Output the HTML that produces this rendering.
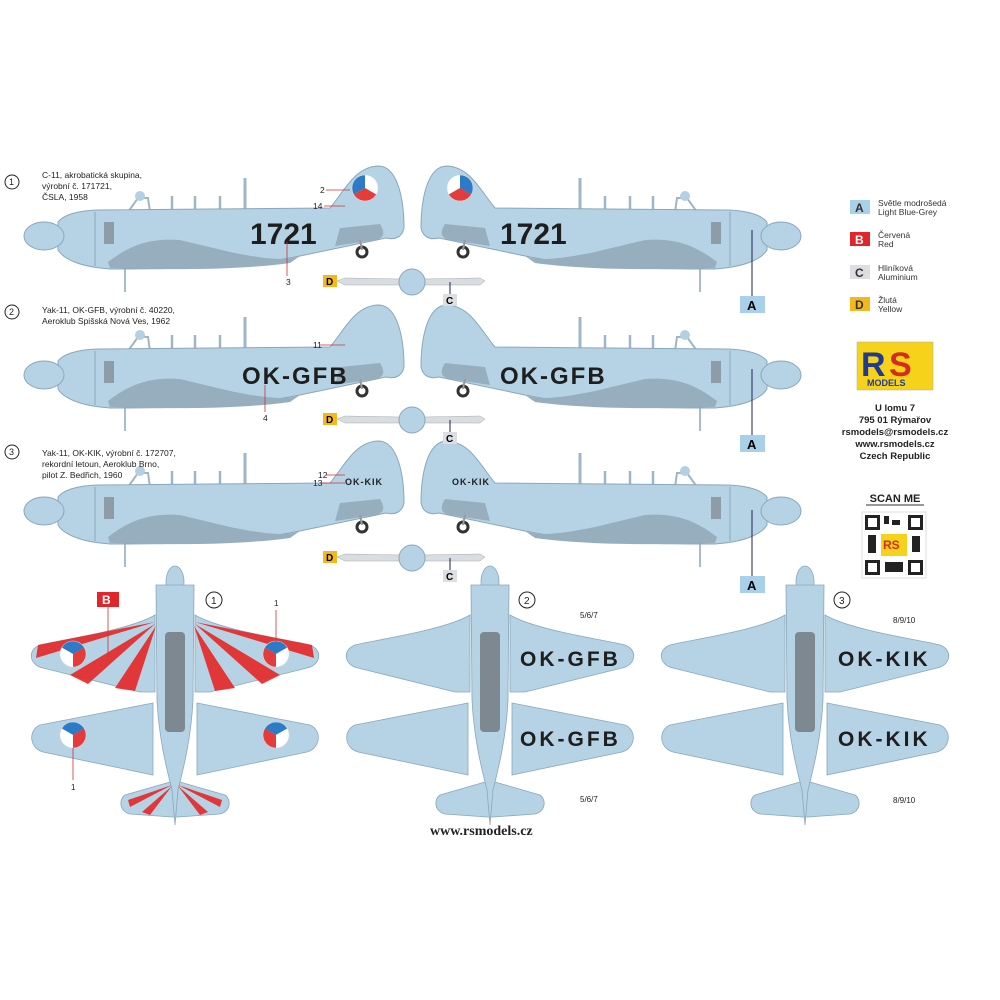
<!DOCTYPE html>
<html><head><meta charset="utf-8"><style>
html,body{margin:0;padding:0;background:#fff;}
svg{display:block;font-family:"Liberation Sans",sans-serif;}
</style></head><body>
<svg width="1000" height="1000" viewBox="0 0 1000 1000" xmlns="http://www.w3.org/2000/svg">
<defs>
<g id="rnd">
  <path d="M0 0 L-11.26 6.5 A13 13 0 0 1 0 -13 Z" fill="#2c7bc8"/>
  <path d="M0 0 L0 -13 A13 13 0 0 1 11.26 6.5 Z" fill="#fff"/>
  <path d="M0 0 L11.26 6.5 A13 13 0 0 1 -11.26 6.5 Z" fill="#e43b3b"/>
  <circle r="13" fill="none" stroke="#ddd" stroke-width="0.5"/>
</g>
<g id="side">
  <line x1="245" y1="178" x2="245" y2="212" stroke="#9fb6c6" stroke-width="3"/>
  <line x1="172" y1="196" x2="172" y2="212" stroke="#9fb6c6" stroke-width="2.5"/>
  <line x1="195" y1="196" x2="195" y2="212" stroke="#9fb6c6" stroke-width="2.5"/>
  <line x1="220" y1="196" x2="220" y2="212" stroke="#9fb6c6" stroke-width="2.5"/>
  <path d="M128 212 L138 198 L148 198 L150 212 Z" fill="none" stroke="#9fb6c6" stroke-width="2"/>
  <circle cx="140" cy="196" r="5" fill="#b4d0e3"/>
  <path d="M58 222 C66 212,88 210,100 210 L330 208 C345 190,355 167,378 166 C398 166,404 200,404 228 C402 238,394 240,386 238 L300 256 C240 268,180 269,110 269 L100 268 C82 266,64 260,58 250 Z" fill="#b6d3e5" stroke="#8aa7bb" stroke-width="1"/>
  <ellipse cx="44" cy="236" rx="20" ry="14" fill="#b6d3e5" stroke="#8aa7bb" stroke-width="1"/>
  <line x1="95" y1="212" x2="95" y2="266" stroke="#8aa7bb" stroke-width="1"/>
  <rect x="104" y="222" width="10" height="22" fill="#8d9ca7"/>
  <path d="M108 262 C130 245,150 238,180 240 L230 252 C260 258,285 262,300 256 L290 263 C240 270,170 270,110 268 Z" fill="#97aebe"/>
  <path d="M340 228 L380 224 C385 232,385 238,375 240 L335 246 Z" fill="#97aebe"/>
  <line x1="125" y1="268" x2="125" y2="292" stroke="#8aa7bb" stroke-width="1.5"/>
  <circle cx="362" cy="252" r="5" fill="none" stroke="#333" stroke-width="3"/>
  <line x1="360" y1="240" x2="362" y2="250" stroke="#999" stroke-width="2"/>
</g>
<g id="top">
  <path d="M-20 615 C-45 630,-115 640,-135 645 C-148 650,-146 665,-132 668 L-35 692 L-20 692 Z" fill="#b6d3e5" stroke="#8aa7bb" stroke-width="0.8"/>
  <path d="M20 615 C45 630,115 640,135 645 C148 650,146 665,132 668 L35 692 L20 692 Z" fill="#b6d3e5" stroke="#8aa7bb" stroke-width="0.8"/>
  <path d="M-22 703 L-135 725 C-147 730,-146 748,-132 752 L-22 775 Z" fill="#b6d3e5" stroke="#8aa7bb" stroke-width="0.8"/>
  <path d="M22 703 L135 725 C147 730,146 748,132 752 L22 775 Z" fill="#b6d3e5" stroke="#8aa7bb" stroke-width="0.8"/>
  <path d="M-5 782 L-50 795 C-57 800,-55 812,-45 814 L-3 817 L3 817 L45 814 C55 812,57 800,50 795 L5 782 Z" fill="#b6d3e5" stroke="#8aa7bb" stroke-width="0.8"/>
  <ellipse cx="0" cy="582" rx="9" ry="16" fill="#b6d3e5" stroke="#8aa7bb" stroke-width="0.8"/>
  <path d="M-19 585 L19 585 L18 700 C16 740,8 770,3 790 L0 825 L-3 790 C-8 770,-16 740,-18 700 Z" fill="#b6d3e5" stroke="#8aa7bb" stroke-width="0.8"/>
  <rect x="-10" y="632" width="20" height="100" rx="4" fill="#7d8890"/>
</g>
</defs>

<use href="#side"/>
<use href="#side" transform="translate(825,0) scale(-1,1)"/>
<use href="#side" transform="translate(0,139)"/>
<use href="#side" transform="translate(825,139) scale(-1,1)"/>
<use href="#side" transform="translate(0,275)"/>
<use href="#side" transform="translate(825,275) scale(-1,1)"/>

<use href="#rnd" transform="translate(365,188)"/>
<use href="#rnd" transform="translate(460,188) scale(-1,1)"/>

<g fill="#1e1e1e" font-weight="bold">
 <text x="250" y="244" font-size="30">1721</text>
 <text x="500" y="244" font-size="30">1721</text>
 <text x="242" y="384" font-size="24" letter-spacing="2">OK-GFB</text>
 <text x="500" y="384" font-size="24" letter-spacing="2">OK-GFB</text>
 <text x="345" y="485" font-size="9" letter-spacing="1">OK-KIK</text>
 <text x="452" y="485" font-size="9" letter-spacing="1">OK-KIK</text>
</g>

<g font-size="8.5" fill="#222">
 <circle cx="12" cy="182" r="7" fill="none" stroke="#222"/><text x="9" y="185" font-size="9">1</text>
 <text x="42" y="178">C-11, akrobatická skupina,</text>
 <text x="42" y="189">výrobní č. 171721,</text>
 <text x="42" y="200">ČSLA, 1958</text>
 <circle cx="12" cy="312" r="7" fill="none" stroke="#222"/><text x="9" y="315" font-size="9">2</text>
 <text x="42" y="313">Yak-11, OK-GFB, výrobní č. 40220,</text>
 <text x="42" y="324">Aeroklub Spišská Nová Ves, 1962</text>
 <circle cx="12" cy="452" r="7" fill="none" stroke="#222"/><text x="9" y="455" font-size="9">3</text>
 <text x="42" y="456">Yak-11, OK-KIK, výrobní č. 172707,</text>
 <text x="42" y="467">rekordní letoun, Aeroklub Brno,</text>
 <text x="42" y="478">pilot Z. Bedřich, 1960</text>
 <text x="320" y="193">2</text><text x="313" y="209">14</text><text x="286" y="285">3</text>
 <text x="313" y="348">11</text><text x="263" y="421">4</text>
 <text x="318" y="478">12</text><text x="313" y="486">13</text>
</g>
<g stroke="#c33" stroke-width="0.8">
 <line x1="326" y1="190" x2="350" y2="190"/><line x1="324" y1="206" x2="345" y2="206"/>
 <line x1="287" y1="242" x2="287" y2="276"/><line x1="320" y1="345" x2="345" y2="345"/>
 <line x1="265" y1="385" x2="265" y2="412"/><line x1="326" y1="475" x2="345" y2="475"/>
 <line x1="322" y1="483" x2="345" y2="483"/>
</g>

<g id="prop">
 <rect x="323" y="275" width="14" height="12" fill="#f3b81c"/><text x="326" y="285" font-size="10" font-weight="bold">D</text>
 <path d="M337 281 L345 278 L400 279 L400 285 L345 285 Z" fill="#d8dde2" stroke="#aaa" stroke-width="0.5"/>
 <path d="M424 279 L480 278 L485 281 L480 285 L424 285 Z" fill="#d8dde2" stroke="#aaa" stroke-width="0.5"/>
 <circle cx="412" cy="282" r="13" fill="#b6d3e5" stroke="#8aa7bb"/>
 <line x1="450" y1="282" x2="450" y2="294" stroke="#225"/>
 <rect x="443" y="294" width="14" height="12" fill="#dcdee2"/><text x="446" y="304" font-size="10" font-weight="bold">C</text>
</g>
<use href="#prop" transform="translate(0,138)"/>
<use href="#prop" transform="translate(0,276)"/>
<g id="aLbl">
 <line x1="752" y1="230" x2="752" y2="296" stroke="#225"/>
 <rect x="740" y="296" width="25" height="17" fill="#a8d0e8"/><text x="747" y="310" font-size="13" font-weight="bold">A</text>
</g>
<use href="#aLbl" transform="translate(0,139)"/>
<use href="#aLbl" transform="translate(0,280)"/>

<g transform="translate(175,0)"><use href="#top"/></g>
<g transform="translate(490,0)"><use href="#top"/></g>
<g transform="translate(805,0)"><use href="#top"/></g>

<g fill="#e52a2a" opacity="0.92">
 <polygon points="155,622 38,645 36,658"/>
 <polygon points="155,624 70,675 88,684"/>
 <polygon points="156,626 115,688 135,691"/>
 <polygon points="195,622 312,645 314,658"/>
 <polygon points="195,624 280,675 262,684"/>
 <polygon points="194,626 235,688 215,691"/>
 <polygon points="172,785 128,800 130,807"/>
 <polygon points="172,786 142,812 150,815"/>
 <polygon points="178,785 222,800 220,807"/>
 <polygon points="178,786 208,812 200,815"/>
</g>
<use href="#rnd" transform="translate(73,654) scale(-1,1) rotate(60)"/>
<use href="#rnd" transform="translate(276,654) rotate(60)"/>
<use href="#rnd" transform="translate(73,735) scale(-1,1) rotate(60)"/>
<use href="#rnd" transform="translate(276,735) rotate(60)"/>

<rect x="97" y="592" width="22" height="15" fill="#e0262b"/><text x="102" y="604" font-size="12" font-weight="bold" fill="#fff">B</text>
<line x1="108" y1="607" x2="108" y2="660" stroke="#c33" stroke-width="0.8"/>
<line x1="276" y1="610" x2="276" y2="642" stroke="#c33" stroke-width="0.8"/>
<line x1="73" y1="748" x2="73" y2="780" stroke="#c33" stroke-width="0.8"/>
<g font-size="8" fill="#222"><text x="274" y="606">1</text><text x="71" y="790">1</text>
<text x="580" y="618">5/6/7</text><text x="580" y="802">5/6/7</text>
<text x="893" y="623">8/9/10</text><text x="893" y="803">8/9/10</text></g>
<g fill="none" stroke="#222"><circle cx="214" cy="600" r="8"/><circle cx="527" cy="600" r="8"/><circle cx="842" cy="600" r="8"/></g>
<g font-size="10" fill="#222"><text x="211" y="604">1</text><text x="524" y="604">2</text><text x="839" y="604">3</text></g>
<g font-size="21" font-weight="bold" fill="#1e1e1e" letter-spacing="3">
 <text x="520" y="666">OK-GFB</text><text x="520" y="746">OK-GFB</text>
 <text x="838" y="666">OK-KIK</text><text x="838" y="746">OK-KIK</text>
</g>
<text x="430" y="835" font-size="14" font-weight="bold" fill="#222" font-family="Liberation Serif,serif">www.rsmodels.cz</text>

<g font-size="8.5" fill="#333">
 <rect x="850" y="200" width="20" height="14" fill="#a8d0e8"/><text x="855" y="212" font-size="12" font-weight="bold">A</text>
 <text x="878" y="206">Světle modrošedá</text><text x="878" y="215">Light Blue-Grey</text>
 <rect x="850" y="232" width="20" height="14" fill="#e0262b"/><text x="855" y="244" font-size="12" font-weight="bold" fill="#fff">B</text>
 <text x="878" y="238">Červená</text><text x="878" y="247">Red</text>
 <rect x="850" y="265" width="20" height="14" fill="#dcdee2"/><text x="855" y="277" font-size="12" font-weight="bold">C</text>
 <text x="878" y="271">Hliníková</text><text x="878" y="280">Aluminium</text>
 <rect x="850" y="297" width="20" height="14" fill="#f3b81c"/><text x="855" y="309" font-size="12" font-weight="bold">D</text>
 <text x="878" y="303">Žlutá</text><text x="878" y="312">Yellow</text>
</g>
<rect x="857" y="342" width="76" height="48" fill="#f6d21a" stroke="#aa9" stroke-width="0.5"/>
<text x="861" y="376" font-size="34" font-weight="bold" fill="#1f3b8f" letter-spacing="-2">R</text>
<text x="889" y="376" font-size="34" font-weight="bold" fill="#d62b22">S</text>
<text x="867" y="386" font-size="9" font-weight="bold" fill="#1f3b8f">MODELS</text>
<g font-size="9.5" font-weight="bold" fill="#222" text-anchor="middle">
 <text x="895" y="411">U lomu 7</text><text x="895" y="423">795 01 Rýmařov</text>
 <text x="895" y="435">rsmodels@rsmodels.cz</text><text x="895" y="447">www.rsmodels.cz</text><text x="895" y="459">Czech Republic</text>
 <text x="895" y="502" font-size="11">SCAN ME</text>
</g>
<line x1="866" y1="505" x2="924" y2="505" stroke="#333"/>
<rect x="862" y="512" width="64" height="66" fill="#fff" stroke="#ddd"/>
<g fill="#222">
 <rect x="865" y="515" width="15" height="15"/><rect x="908" y="515" width="15" height="15"/><rect x="865" y="560" width="15" height="15"/><rect x="908" y="560" width="15" height="15"/>
 <rect x="884" y="516" width="5" height="8"/><rect x="892" y="520" width="8" height="5"/><rect x="868" y="535" width="8" height="18"/><rect x="912" y="536" width="8" height="16"/><rect x="885" y="562" width="18" height="10"/>
</g>
<g fill="#fff"><rect x="868" y="518" width="9" height="9"/><rect x="911" y="518" width="9" height="9"/><rect x="868" y="563" width="9" height="9"/><rect x="911" y="563" width="9" height="9"/></g>
<rect x="881" y="534" width="26" height="22" fill="#f6d21a"/>
<text x="883" y="549" font-size="12" font-weight="bold" fill="#d62b22">RS</text>
</svg>
</body></html>
